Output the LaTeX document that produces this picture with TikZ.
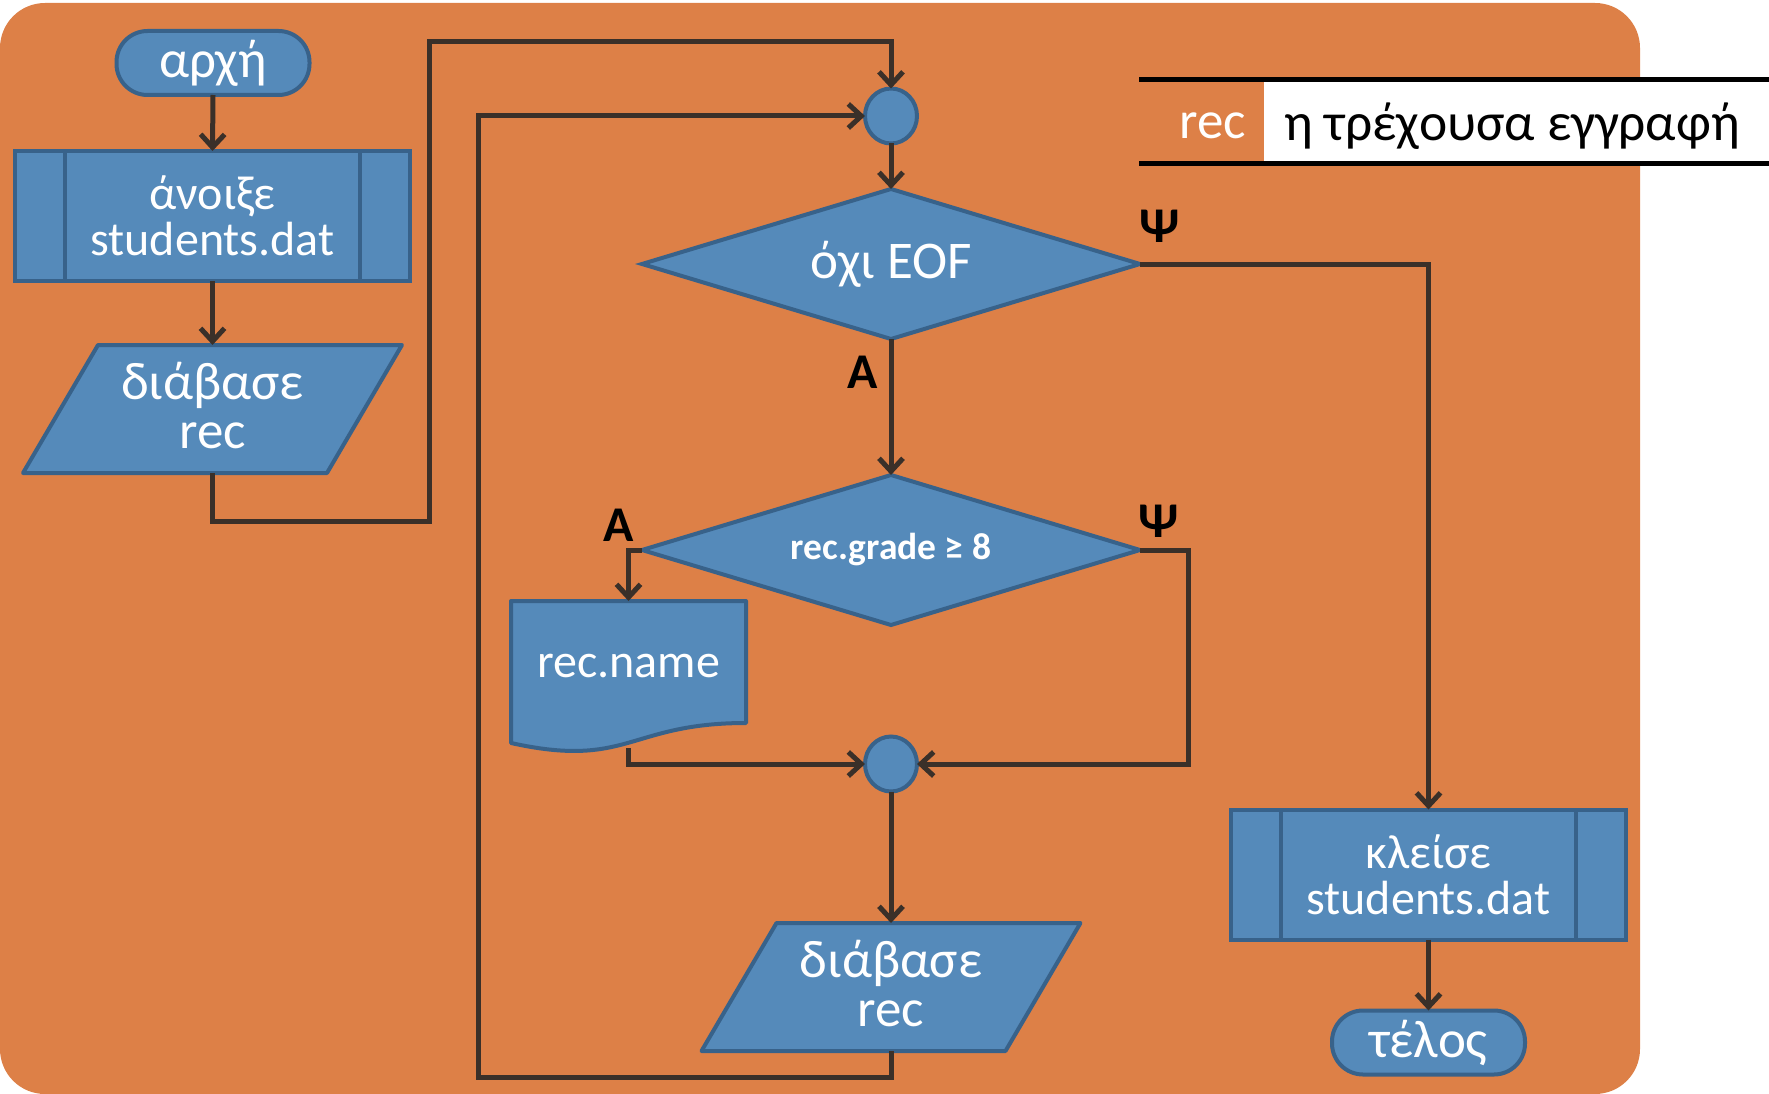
\documentclass[tikz,border=0pt]{standalone}
\usepackage{fontspec}
\setmainfont{Carlito}
\usetikzlibrary{shapes.geometric, arrows.meta, calc}

\definecolor{bgorange}{HTML}{DD8047}
\definecolor{nodeblue}{HTML}{558ABA}
\definecolor{borderblue}{HTML}{38628A}
\definecolor{linebrown}{HTML}{3A3029}

\begin{document}
\begin{tikzpicture}[x=1pt,y=-1pt,
  every node/.style={inner sep=0pt, outer sep=0pt},
  bigfont/.style={font=\fontsize{48}{46}\selectfont},
  grfont/.style={font=\fontsize{53}{49}\selectfont},
  shapebase/.style={draw=borderblue, fill=nodeblue, line width=4pt, text=white, bigfont, align=center},
  term/.style={shapebase, grfont, rectangle, rounded corners=31pt, minimum width=193pt, minimum height=64pt},
  proc/.style={shapebase, rectangle, minimum width=395pt, minimum height=130pt},
  iobox/.style={rectangle, text=white, bigfont, align=center, minimum width=379pt, minimum height=128pt},
  iofill/.style={draw=borderblue, fill=nodeblue, line width=4pt, line join=round},
  dec/.style={shapebase, diamond, aspect=3.32, minimum width=498pt, minimum height=150pt},
  conn/.style={shapebase, ellipse, minimum width=52pt, minimum height=55pt},
  flow/.style={draw=linebrown, line width=5pt},
  arr/.style={flow, -{Straight Barb[length=13pt,width=24pt,line width=5pt]}},
  lbl/.style={font=\bfseries\fontsize{50}{50}\selectfont, text=black}
]
\useasboundingbox (0,0) rectangle (1769,1094);
\fill[bgorange, rounded corners=45pt] (0,3) rectangle (1640,1094);

% legend
\fill[white] (1264,82) rectangle (1769,162);
\draw[black, line width=5pt] (1139,80) -- (1769,80);
\draw[black, line width=5pt] (1139,164) -- (1769,164);
\node[anchor=east, text=white, font=\fontsize{53}{53}\selectfont] (legkey) at (1246,126) {rec};
\node[anchor=west, text=black, font=\fontsize{53.5}{53.5}\selectfont] (legval) at (1284,126) {η τρέχουσα εγγραφή};

% left column
\node[term] (start) at (213,63) {αρχή};
\node[proc] (open) at (212.5,216) {άνοιξε\\students.dat};
\draw[draw=borderblue, line width=4pt] ($(open.north west)+(50,0)$) -- ($(open.south west)+(50,0)$);
\draw[draw=borderblue, line width=4pt] ($(open.north east)+(-50,0)$) -- ($(open.south east)+(-50,0)$);

\node[iobox] (read1) at (212.5,409) {};
\fill[iofill] ($(read1.north west)+(75,0)$) -- (read1.north east) -- ($(read1.south east)+(-75,0)$) -- (read1.south west) -- cycle;
\node[iobox, grfont] at ($(read1.center)+(0,-3)$) {διάβασε\\rec};

% middle column
\node[conn] (c1) at (891,116) {};
\node[dec, grfont] (d1) at (891,264) {όχι EOF};
\node[dec, font=\bfseries\fontsize{37.5}{40}\selectfont] (d2) at (891,550) {rec.grade ≥ 8};

\fill[iofill] (511,601) -- (746,601) -- (746,723) .. controls (628.5,723) and (628.5,769) .. (511,743) -- cycle;
\node[text=white, font=\fontsize{48}{48}\selectfont] (show) at (628.5,666) {rec.name};
\coordinate (showbot) at (628.5,748);

\node[conn] (c2) at (891,764) {};

\node[iobox] (read2) at (891,987) {};
\fill[iofill] ($(read2.north west)+(75,0)$) -- (read2.north east) -- ($(read2.south east)+(-75,0)$) -- (read2.south west) -- cycle;
\node[iobox, grfont] at ($(read2.center)+(0,-3)$) {διάβασε\\rec};

% right column
\node[proc] (close) at (1428.5,874.5) {κλείσε\\students.dat};
\draw[draw=borderblue, line width=4pt] ($(close.north west)+(50,0)$) -- ($(close.south west)+(50,0)$);
\draw[draw=borderblue, line width=4pt] ($(close.north east)+(-50,0)$) -- ($(close.south east)+(-50,0)$);
\node[term] (end) at (1428.5,1042.5) {τέλος};

% labels
\node[lbl] (a1) at (863,372) {Α};
\node[lbl] (p1) at (1160,226) {Ψ};
\node[lbl] (a2) at (619,525) {Α};
\node[lbl] (p2) at (1159,521) {Ψ};

% connectors
\draw[arr] (start.south) -- (open.north);
\draw[arr] (open.south) -- (read1.north);
\draw[arr] (read1.south) -- ++(0,48) -| (429,42) -| (c1.north);
\draw[arr] (c1.south) -- (d1.north);
\draw[arr] (d1.south) -- (d2.north);
\draw[arr] (d1.east) -| (close.north);
\draw[arr] (d2.west) -| ($(show.center)+(0,-65)$);
\draw[arr] (d2.east) -- (1188,550) |- (c2.east);
\draw[arr] (showbot) |- (c2.west);
\draw[arr] (c2.south) -- (read2.north);
\draw[arr] (read2.south) -- ++(0,26) -| (478,116) -- (c1.west);
\draw[arr] (close.south) -- (end.north);
\end{tikzpicture}
\end{document}
